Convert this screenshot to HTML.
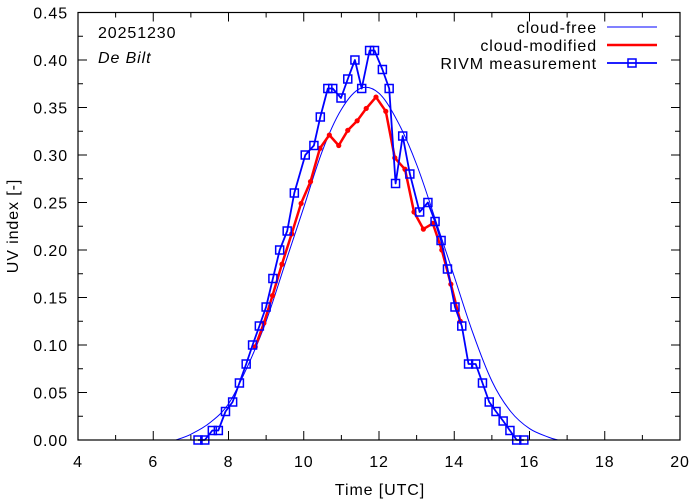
<!DOCTYPE html>
<html><head><meta charset="utf-8"><style>
body{margin:0;background:#fff}
svg{display:block;font-family:"Liberation Sans",sans-serif}
svg text{letter-spacing:0.9px}
</style></head><body>
<svg id="chart" width="694" height="501" xmlns="http://www.w3.org/2000/svg">
<rect width="694" height="501" fill="#fff"/>
<g id="grid"></g>
<g id="series"></g>
<rect x="78" y="12.5" width="602" height="427.5" fill="none" stroke="#000" stroke-width="1.2"/>
<text x="98" y="38" font-size="16">20251230</text>
<text x="98" y="63" font-size="16" font-style="italic">De Bilt</text>
<text x="380" y="495" font-size="16" text-anchor="middle">Time  [UTC]</text>
<text transform="translate(18,226) rotate(-90)" font-size="16" text-anchor="middle">UV index  [-]</text>
<g>
<text x="597" y="33" font-size="16" text-anchor="end">cloud-free</text>
<line x1="607" y1="27" x2="657" y2="27" stroke="#0000ff" stroke-width="1"/>
<text x="597" y="51" font-size="16" text-anchor="end">cloud-modified</text>
<line x1="607" y1="45" x2="657" y2="45" stroke="#ff0000" stroke-width="2.5"/>
<text x="597" y="69" font-size="16" text-anchor="end">RIVM measurement</text>
<line x1="607" y1="63" x2="657" y2="63" stroke="#0000ff" stroke-width="1.8"/>
<rect x="628" y="59" width="8" height="8" fill="none" stroke="#0000ff" stroke-width="1.5"/>
</g>
</svg>
<script>
const xTicks=[4,6,8,10,12,14,16,18,20];
const yTicks=[0,0.05,0.10,0.15,0.20,0.25,0.30,0.35,0.40,0.45];
const clearT=[6.6,7,7.5,8,8.5,9,9.5,10,10.5,11,11.5,12,12.5,13,13.5,14,14.5,15,15.5,16,16.5,16.75];
const clearV=[0,0.006,0.018,0.038,0.077,0.125,0.185,0.245,0.305,0.348,0.37,0.365,0.335,0.29,0.232,0.172,0.112,0.062,0.03,0.012,0.003,0];
const cloudT=[8.71,8.94,9.17,9.42,9.68,9.93,10.18,10.43,10.68,10.93,11.17,11.42,11.66,11.92,12.18,12.42,12.69,12.93,13.18,13.43,13.67,13.91,14.16];
const cloudV=[0.098,0.123,0.152,0.185,0.217,0.249,0.272,0.307,0.321,0.31,0.326,0.336,0.349,0.361,0.346,0.297,0.285,0.24,0.222,0.228,0.2,0.164,0.125];
const measT=[7.19,7.37,7.57,7.73,7.92,8.11,8.29,8.47,8.64,8.82,9.0,9.18,9.36,9.56,9.75,10.04,10.27,10.44,10.64,10.77,10.99,11.17,11.36,11.54,11.75,11.88,12.09,12.27,12.44,12.63,12.82,13.08,13.3,13.49,13.65,13.82,14.02,14.2,14.38,14.57,14.75,14.93,15.11,15.3,15.48,15.66,15.85];
const measV=[0,0,0.01,0.01,0.03,0.04,0.06,0.08,0.10,0.12,0.14,0.17,0.20,0.22,0.26,0.30,0.31,0.34,0.37,0.37,0.36,0.38,0.40,0.37,0.41,0.41,0.39,0.37,0.27,0.32,0.28,0.24,0.25,0.23,0.21,0.18,0.14,0.12,0.08,0.08,0.06,0.04,0.03,0.02,0.01,0,0];
const NS="http://www.w3.org/2000/svg";
const X0=78,X1=680,Y0=440,Y1=12.5;
function sx(t){return X0+(t-4)/16*(X1-X0);}
function sy(v){return Y0-(v/0.45)*(Y0-Y1);}
function mk(tag,attrs,parent){const e=document.createElementNS(NS,tag);for(const k in attrs)e.setAttribute(k,attrs[k]);parent.appendChild(e);return e;}
const g=document.getElementById('grid'),s=document.getElementById('series');
for(let h=4;h<=20;h++){const x=sx(h),len=(h%2===0)?9:5;
 const a=mk('line',{x1:x,y1:Y0,x2:x,y2:Y0-len,stroke:'#000'},g);
 const b=mk('line',{x1:x,y1:Y1,x2:x,y2:Y1+len,stroke:'#000'},g);}
xTicks.forEach(t=>{const e=mk('text',{x:sx(t),y:467,'font-size':16,'text-anchor':'middle'},g);e.textContent=t;
 });
for(let i=0;i<=18;i++){const v=i*0.025,y=sy(v),len=(i%2===0)?9:5;
 const a=mk('line',{x1:X0,y1:y,x2:X0+len,y2:y,stroke:'#000'},g);
 const b=mk('line',{x1:X1,y1:y,x2:X1-len,y2:y,stroke:'#000'},g);}
yTicks.forEach(v=>{const e=mk('text',{x:68,y:sy(v)+6,'font-size':16,'text-anchor':'end'},g);e.textContent=v.toFixed(2);
 });
function pts(T,V){return T.map((t,i)=>sx(t).toFixed(1)+','+sy(V[i]).toFixed(1)).join(' ');}
function smooth(T,V){const P=T.map((t,i)=>[sx(t),sy(V[i])]);let d='M'+P[0][0]+','+P[0][1];
 for(let i=0;i<P.length-1;i++){const p0=P[Math.max(i-1,0)],p1=P[i],p2=P[i+1],p3=P[Math.min(i+2,P.length-1)];
  const c1x=p1[0]+(p2[0]-p0[0])/6,c1y=p1[1]+(p2[1]-p0[1])/6,c2x=p2[0]-(p3[0]-p1[0])/6,c2y=p2[1]-(p3[1]-p1[1])/6;
  d+=' C'+c1x.toFixed(1)+','+c1y.toFixed(1)+' '+c2x.toFixed(1)+','+c2y.toFixed(1)+' '+p2[0].toFixed(1)+','+p2[1].toFixed(1);}
 return d;}
const c1=mk('path',{d:smooth(clearT,clearV),fill:'none',stroke:'#0000ff','stroke-width':1},s);

const c2=mk('polyline',{points:pts(cloudT,cloudV),fill:'none',stroke:'#ff0000','stroke-width':2.5,'stroke-linejoin':'round'},s);

cloudT.forEach((t,i)=>{const d=mk('circle',{cx:sx(t),cy:sy(cloudV[i]),r:2.6,fill:'#ff0000'},s);
 });
const c3=mk('polyline',{points:pts(measT,measV),fill:'none',stroke:'#0000ff','stroke-width':1.8,'stroke-linejoin':'round'},s);

measT.forEach((t,i)=>{const r=mk('rect',{x:sx(t)-4,y:sy(measV[i])-4,width:8,height:8,fill:'none',stroke:'#0000ff','stroke-width':1.5},s);
 });
</script>
</body></html>
